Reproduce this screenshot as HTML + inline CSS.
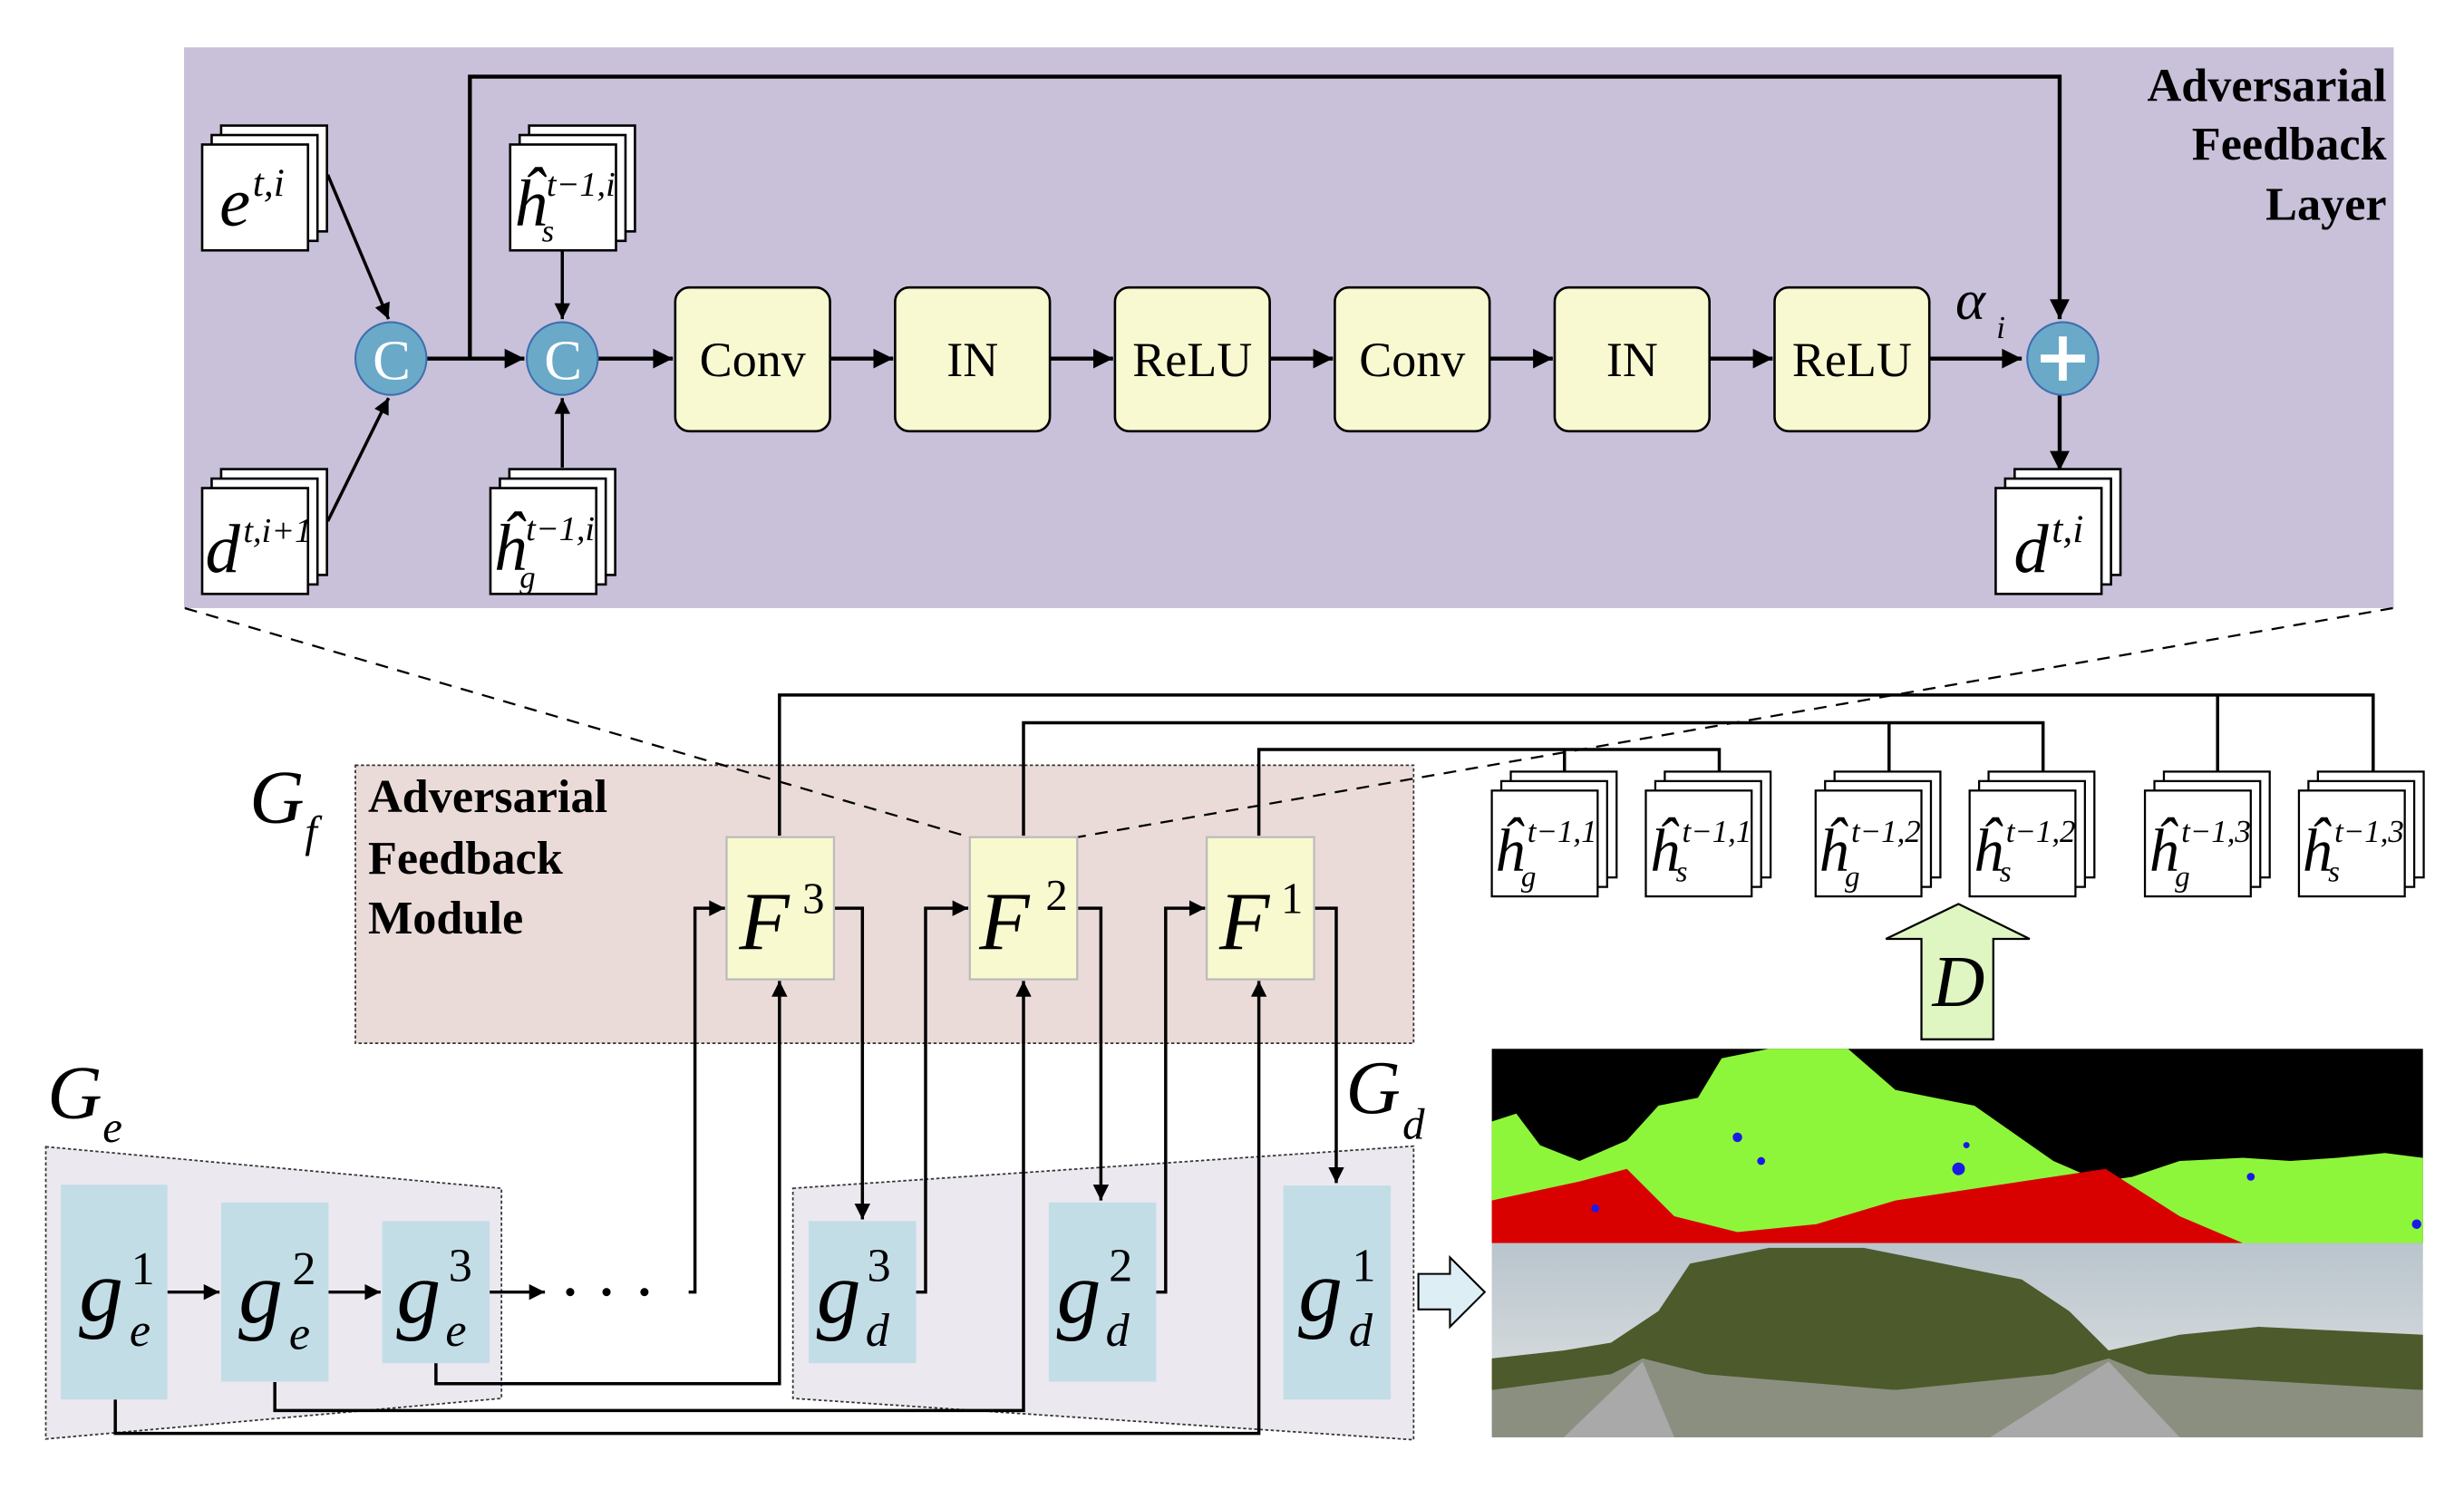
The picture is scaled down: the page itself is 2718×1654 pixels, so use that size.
<!DOCTYPE html>
<html><head><meta charset="utf-8"><style>
html,body{margin:0;padding:0;background:#fff;}
svg{display:block;font-family:"Liberation Serif","Times New Roman",Times,serif;}
svg text{font-family:"Liberation Serif","Times New Roman",Times,serif;}
.it{font-style:italic;}
.b{font-weight:bold;}
</style></head><body>
<svg width="2718" height="1654" viewBox="0 0 1560 949" preserveAspectRatio="none" xmlns="http://www.w3.org/2000/svg" font-family="Liberation Serif, Times New Roman, serif">
<defs>
<marker id="ab" viewBox="0 0 10 10" refX="10" refY="5" markerWidth="6" markerHeight="5" markerUnits="strokeWidth" orient="auto"><path d="M0,0 L10,5 L0,10 z" fill="#000"/></marker>
<marker id="as" viewBox="0 0 10 10" refX="10" refY="5" markerWidth="5.5" markerHeight="5" markerUnits="strokeWidth" orient="auto"><path d="M0,0 L10,5 L0,10 z" fill="#000"/></marker>
<linearGradient id="sky" x1="0" y1="0" x2="0" y2="1"><stop offset="0" stop-color="#b9c4cc"/><stop offset="1" stop-color="#e3e6e6"/></linearGradient>
</defs>

<rect x="116.5" y="30" width="1399" height="355" fill="#c9c1d9"/>
<g font-family="Liberation Serif, Times New Roman, serif" font-weight="bold" font-size="30" text-anchor="end">
<text x="1511" y="64">Adversarial</text>
<text x="1511" y="101">Feedback</text>
<text x="1511" y="139">Layer</text>
</g>

<g fill="none" stroke="#000" stroke-width="2.5">
<path d="M297.5,227 V48.5 H1304 V202" marker-end="url(#ab)"/>
<line x1="270" y1="227" x2="332" y2="227" marker-end="url(#ab)"/>
<line x1="378" y1="227" x2="426" y2="227" marker-end="url(#ab)"/>
<line x1="525.5" y1="227" x2="565.5" y2="227" marker-end="url(#ab)"/>
<line x1="664.7" y1="227" x2="704.7" y2="227" marker-end="url(#ab)"/>
<line x1="803.9" y1="227" x2="843.9" y2="227" marker-end="url(#ab)"/>
<line x1="943.1" y1="227" x2="983.1" y2="227" marker-end="url(#ab)"/>
<line x1="1082.3" y1="227" x2="1122.3" y2="227" marker-end="url(#ab)"/>
<line x1="1221.5" y1="227" x2="1280" y2="227" marker-end="url(#ab)"/>
<line x1="1304" y1="250" x2="1304" y2="298" marker-end="url(#ab)"/>
<line x1="207.5" y1="110.6" x2="246" y2="202" stroke-width="2" marker-end="url(#ab)"/>
<line x1="207.5" y1="330" x2="246" y2="252" stroke-width="2" marker-end="url(#ab)"/>
<line x1="356" y1="158" x2="356" y2="202" stroke-width="2" marker-end="url(#ab)"/>
<line x1="356" y1="296" x2="356" y2="252" stroke-width="2" marker-end="url(#ab)"/>
</g>

<g fill="#f8f9d1" stroke="#000" stroke-width="1.5">
<rect x="427.5" y="182" width="98" height="91" rx="9"/>
<rect x="566.7" y="182" width="98" height="91" rx="9"/>
<rect x="705.9" y="182" width="98" height="91" rx="9"/>
<rect x="845.1" y="182" width="98" height="91" rx="9"/>
<rect x="984.3" y="182" width="98" height="91" rx="9"/>
<rect x="1123.5" y="182" width="98" height="91" rx="9"/>
</g>
<g font-family="Liberation Serif, Times New Roman, serif" font-size="31" text-anchor="middle">
<text x="476.5" y="238">Conv</text>
<text x="615.7" y="238">IN</text>
<text x="754.9" y="238">ReLU</text>
<text x="894.1" y="238">Conv</text>
<text x="1033.3" y="238">IN</text>
<text x="1172.5" y="238">ReLU</text>
</g>
<g font-family="Liberation Serif, Times New Roman, serif" font-style="italic">
<text x="1238" y="202" font-size="36">α</text>
<text x="1264" y="214" font-size="20">i</text>
</g>

<g fill="#6aa9c8" stroke="#3e6eb0" stroke-width="1.2">
<ellipse cx="247.5" cy="227" rx="22.5" ry="23"/>
<ellipse cx="356" cy="227" rx="22.5" ry="23"/>
<ellipse cx="1306" cy="227" rx="22.5" ry="23"/>
</g>
<g fill="#fff" font-family="Liberation Sans, Arial, sans-serif" font-size="36" text-anchor="middle">
<text x="248" y="240">C</text>
<text x="356.5" y="240">C</text>
</g>
<path d="M1306,213 V241 M1292,227 H1320" stroke="#fff" stroke-width="5"/>

<g fill="#fff" stroke="#000" stroke-width="1.5">
<rect x="140" y="79.5" width="67" height="67"/><rect x="134" y="85.5" width="67" height="67"/><rect x="128" y="91.5" width="67" height="67"/>
<rect x="335" y="79.5" width="67" height="67"/><rect x="329" y="85.5" width="67" height="67"/><rect x="323" y="91.5" width="67" height="67"/>
<rect x="140" y="297" width="67" height="67"/><rect x="134" y="303" width="67" height="67"/><rect x="128" y="309" width="67" height="67"/>
<rect x="322.5" y="297" width="67" height="67"/><rect x="316.5" y="303" width="67" height="67"/><rect x="310.5" y="309" width="67" height="67"/>
<rect x="1275.5" y="297" width="67" height="67"/><rect x="1269.5" y="303" width="67" height="67"/><rect x="1263.5" y="309" width="67" height="67"/>
</g>
<g font-family="Liberation Serif, Times New Roman, serif" font-style="italic">
<text x="139" y="143" font-size="44">e</text><text x="160" y="124" font-size="25">t,i</text>
<text x="130" y="362" font-size="44">d</text><text x="154" y="343" font-size="22">t,i+1</text>
<text x="325" y="143" font-size="42">ĥ</text><text x="346" y="124" font-size="22">t−1,i</text><text x="343" y="153" font-size="20">s</text>
<text x="312" y="361" font-size="42">ĥ</text><text x="333" y="342" font-size="22">t−1,i</text><text x="329" y="372" font-size="20">g</text>
<text x="1275" y="362" font-size="44">d</text><text x="1299" y="343" font-size="25">t,i</text>
</g>

<rect x="225" y="484.5" width="670" height="176" fill="#eadbd9" stroke="#333" stroke-width="1" stroke-dasharray="2,1.5"/>
<line x1="117" y1="385" x2="614" y2="530" stroke="#000" stroke-width="1.3" stroke-dasharray="8,6"/>
<line x1="1515" y1="385" x2="682" y2="530" stroke="#000" stroke-width="1.3" stroke-dasharray="8,6"/>

<g font-family="Liberation Serif, Times New Roman, serif" font-style="italic">
<text x="158" y="521" font-size="48">G</text><text x="193" y="536" font-size="28">f</text>
<text x="30" y="708" font-size="48">G</text><text x="65" y="723" font-size="28">e</text>
<text x="852" y="705" font-size="48">G</text><text x="888" y="721" font-size="28">d</text>
</g>
<g font-family="Liberation Serif, Times New Roman, serif" font-weight="bold" font-size="30">
<text x="233" y="514">Adversarial</text>
<text x="233" y="553">Feedback</text>
<text x="233" y="591">Module</text>
</g>

<polygon points="29,726 317.5,752.3 317.5,885.3 29,911" fill="#ebe8ef" stroke="#333" stroke-width="1" stroke-dasharray="2,1.5"/>
<polygon points="502,752.3 895,725.6 895,911.5 502,885.3" fill="#ebe8ef" stroke="#333" stroke-width="1" stroke-dasharray="2,1.5"/>

<g fill="none" stroke="#000" stroke-width="2">
<path d="M493.5,529 V440 H1502.5 V488" marker-start="url(#as)"/>
<path d="M1404,440 V488"/>
<path d="M648,529 V457.6 H1293.5 V488" marker-start="url(#as)"/>
<path d="M1196,457.6 V488"/>
<path d="M797,529 V474.5 H1088.5 V488" marker-start="url(#as)"/>
<path d="M990.5,474.5 V488"/>
<line x1="106" y1="818" x2="139" y2="818" marker-end="url(#as)"/>
<line x1="208" y1="818" x2="241" y2="818" marker-end="url(#as)"/>
<line x1="310" y1="818" x2="345" y2="818" marker-end="url(#as)"/>
<path d="M436,818 H440 V575 H459" marker-end="url(#as)"/>
<path d="M580,818 H586 V575 H613" marker-end="url(#as)"/>
<path d="M732,818 H738 V575 H763" marker-end="url(#as)"/>
<path d="M528,575 H546 V772" marker-end="url(#as)"/>
<path d="M682,575 H697 V760" marker-end="url(#as)"/>
<path d="M832,575 H846 V749" marker-end="url(#as)"/>
<path d="M276,863 V876 H493.5 V621" marker-end="url(#as)"/>
<path d="M174,875 V893 H648 V621" marker-end="url(#as)"/>
<path d="M73,886 V907.5 H797 V621" marker-end="url(#as)"/>
</g>
<g fill="#000"><circle cx="361" cy="818" r="2.6"/><circle cx="384" cy="818" r="2.6"/><circle cx="408" cy="818" r="2.6"/></g>

<g fill="#f9f9d0" stroke="#bbb" stroke-width="1.3">
<rect x="460" y="530" width="68" height="90"/>
<rect x="614" y="530" width="68" height="90"/>
<rect x="764" y="530" width="68" height="90"/>
</g>
<g font-family="Liberation Serif, Times New Roman, serif">
<text x="468" y="601" font-size="52" font-style="italic">F</text><text x="508" y="578" font-size="28">3</text>
<text x="620" y="601" font-size="52" font-style="italic">F</text><text x="662" y="576" font-size="28">2</text>
<text x="772" y="601" font-size="52" font-style="italic">F</text><text x="811" y="578" font-size="28">1</text>
</g>

<g fill="#c3dde7">
<rect x="38.5" y="750" width="67.5" height="136"/>
<rect x="140" y="761.3" width="68" height="113.4"/>
<rect x="242" y="773" width="68" height="90"/>
<rect x="512" y="773" width="68" height="90"/>
<rect x="664" y="761.3" width="68" height="113.4"/>
<rect x="812.5" y="750.5" width="68" height="135.5"/>
</g>
<g font-family="Liberation Serif, Times New Roman, serif">
<text x="50" y="836" font-size="56" font-style="italic">g</text><text x="83" y="813" font-size="30">1</text><text x="82" y="852" font-size="30" font-style="italic">e</text>
<text x="151" y="837" font-size="56" font-style="italic">g</text><text x="185" y="813" font-size="30">2</text><text x="183" y="854" font-size="30" font-style="italic">e</text>
<text x="251" y="837" font-size="56" font-style="italic">g</text><text x="284" y="811" font-size="30">3</text><text x="282" y="852" font-size="30" font-style="italic">e</text>
<text x="517" y="837" font-size="56" font-style="italic">g</text><text x="549" y="811" font-size="30">3</text><text x="548" y="852" font-size="30" font-style="italic">d</text>
<text x="669" y="837" font-size="56" font-style="italic">g</text><text x="702" y="811" font-size="30">2</text><text x="700" y="852" font-size="30" font-style="italic">d</text>
<text x="822" y="836" font-size="56" font-style="italic">g</text><text x="856" y="811" font-size="30">1</text><text x="854" y="852" font-size="30" font-style="italic">d</text>
</g>

<g fill="#fff" stroke="#000" stroke-width="1.3">
<rect x="956.5" y="488.5" width="67" height="67"/><rect x="950.5" y="494.5" width="67" height="67"/><rect x="944.5" y="500.5" width="67" height="67"/>
<rect x="1054" y="488.5" width="67" height="67"/><rect x="1048" y="494.5" width="67" height="67"/><rect x="1042" y="500.5" width="67" height="67"/>
<rect x="1161.5" y="488.5" width="67" height="67"/><rect x="1155.5" y="494.5" width="67" height="67"/><rect x="1149.5" y="500.5" width="67" height="67"/>
<rect x="1259" y="488.5" width="67" height="67"/><rect x="1253" y="494.5" width="67" height="67"/><rect x="1247" y="500.5" width="67" height="67"/>
<rect x="1370" y="488.5" width="67" height="67"/><rect x="1364" y="494.5" width="67" height="67"/><rect x="1358" y="500.5" width="67" height="67"/>
<rect x="1467.5" y="488.5" width="67" height="67"/><rect x="1461.5" y="494.5" width="67" height="67"/><rect x="1455.5" y="500.5" width="67" height="67"/>
</g>
<g font-family="Liberation Serif, Times New Roman, serif" font-style="italic">
<text x="946" y="551" font-size="38">ĥ</text><text x="967" y="533" font-size="20">t−1,1</text><text x="963" y="561" font-size="19">g</text>
<text x="1044" y="551" font-size="38">ĥ</text><text x="1065" y="533" font-size="20">t−1,1</text><text x="1061" y="558" font-size="19">s</text>
<text x="1151" y="551" font-size="38">ĥ</text><text x="1172" y="533" font-size="20">t−1,2</text><text x="1168" y="561" font-size="19">g</text>
<text x="1249" y="551" font-size="38">ĥ</text><text x="1270" y="533" font-size="20">t−1,2</text><text x="1266" y="558" font-size="19">s</text>
<text x="1360" y="551" font-size="38">ĥ</text><text x="1381" y="533" font-size="20">t−1,3</text><text x="1377" y="561" font-size="19">g</text>
<text x="1457" y="551" font-size="38">ĥ</text><text x="1478" y="533" font-size="20">t−1,3</text><text x="1474" y="558" font-size="19">s</text>
</g>

<polygon points="1216.5,658 1216.5,594.4 1194,594.4 1240,572.3 1285,594.4 1262,594.4 1262,658" fill="#dff6c2" stroke="#000" stroke-width="1.3"/>
<text x="1240" y="637" font-size="46" text-anchor="middle" font-style="italic" font-family="Liberation Serif, Times New Roman, serif">D</text>

<polygon points="898,806.5 918,806.5 918,796 940,818 918,840 918,829 898,829" fill="#ddeef4" stroke="#000" stroke-width="1.2"/>

<rect x="944.5" y="664" width="589.5" height="123" fill="#000"/>
<polygon points="944.5,710 960,705 975,725 1000,735 1030,722 1050,700 1075,695 1090,670 1120,664 1170,664 1200,690 1250,700 1300,735 1330,748 1350,745 1380,735 1420,733 1450,735 1480,733 1510,730 1534,733 1534,787 944.5,787" fill="#8ef63a"/>
<polygon points="944.5,760 1000,748 1030,740 1060,770 1100,780 1150,775 1200,760 1280,748 1333,740 1380,770 1420,787 944.5,787" fill="#d90000"/>
<g fill="#1a1ae8"><circle cx="1100" cy="720" r="3"/><circle cx="1115" cy="735" r="2.5"/><circle cx="1240" cy="740" r="4"/><circle cx="1245" cy="725" r="2"/><circle cx="1010" cy="765" r="2.5"/><circle cx="1425" cy="745" r="2.5"/><circle cx="1530" cy="775" r="3"/></g>

<rect x="944.5" y="787" width="589.5" height="123" fill="url(#sky)"/>
<polygon points="944.5,860 990,855 1020,850 1050,830 1070,800 1120,790 1180,790 1230,800 1280,810 1310,830 1335,855 1380,845 1430,840 1534,845 1534,880 944.5,880" fill="#4d5a2c"/>
<polygon points="944.5,880 1020,870 1040,860 1080,870 1200,880 1300,870 1335,860 1360,870 1534,880 1534,910 944.5,910" fill="#8a8f80"/>
<polygon points="990,910 1040,862 1060,910" fill="#a9a9a9"/>
<polygon points="1260,910 1335,862 1380,910" fill="#a9a9a9"/>
</svg>
</body></html>
